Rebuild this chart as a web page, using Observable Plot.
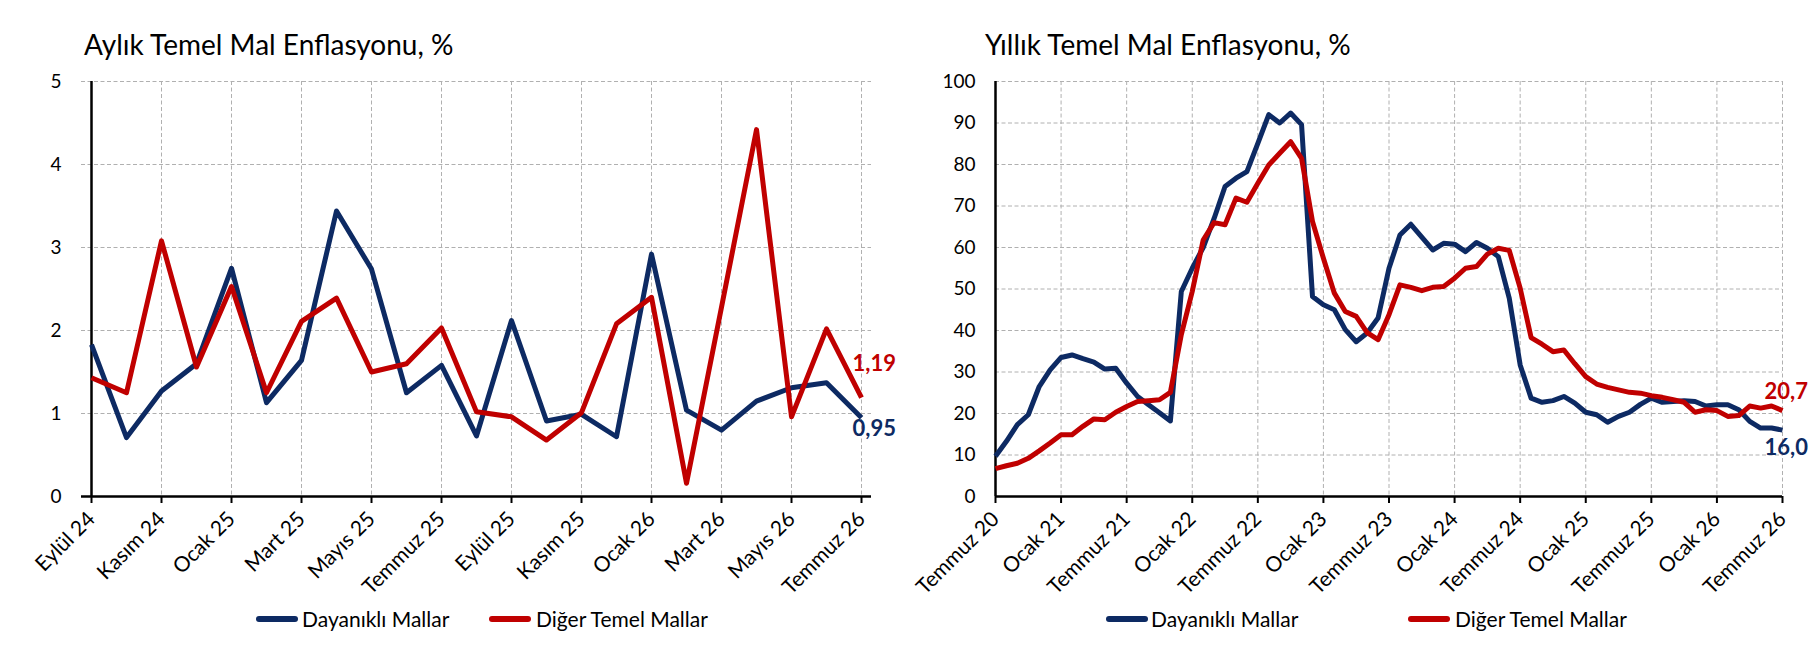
<!DOCTYPE html>
<html><head><meta charset="utf-8">
<script src="https://cdn.jsdelivr.net/npm/d3@7"></script>
<script src="https://cdn.jsdelivr.net/npm/@observablehq/plot@0.6"></script>
<style>
html,body{margin:0;padding:0;background:#fff;}
body{width:1816px;height:658px;position:relative;overflow:hidden;font-family:Lato, sans-serif;color:#000;}
.panel{position:absolute;top:0;width:908px;height:658px;}
.title{position:absolute;top:30px;font-size:28px;line-height:28px;white-space:nowrap;}
.plot{position:absolute;top:62px;left:0;}
.sw{position:absolute;top:616px;width:42px;height:6px;border-radius:3px;}
.lt{position:absolute;top:605px;height:28px;line-height:28px;font-size:21px;white-space:nowrap;}
</style></head><body>
<div id="left" class="panel" style="left:0"></div>
<div id="right" class="panel" style="left:908px"></div>
<script>
// ---------- data ----------
const monthNames = ["Ocak","Şubat","Mart","Nisan","Mayıs","Haziran","Temmuz","Ağustos","Eylül","Ekim","Kasım","Aralık"];
const seriesNames = ["Dayanıklı Mallar", "Diğer Temel Mallar"];
const seriesColors = ["#0d2a63", "#c00000"];

// Aylık (Eylül 24 – Temmuz 26)
const monthlyStart = [2024, 8]; // year, month index (Eylül)
const durableMonthly = [1.83, 0.71, 1.27, 1.60, 2.75, 1.13, 1.64, 3.44, 2.74, 1.25, 1.58, 0.73, 2.12, 0.91, 0.99, 0.72, 2.92, 1.04, 0.80, 1.15, 1.31, 1.37, 0.95];
const otherMonthly   = [1.43, 1.25, 3.08, 1.56, 2.53, 1.25, 2.11, 2.39, 1.50, 1.60, 2.03, 1.02, 0.96, 0.68, 1.01, 2.08, 2.40, 0.16, 2.28, 4.42, 0.96, 2.02, 1.19];
const monthlyXTicks = ["Eylül 24","Kasım 24","Ocak 25","Mart 25","Mayıs 25","Temmuz 25","Eylül 25","Kasım 25","Ocak 26","Mart 26","Mayıs 26","Temmuz 26"];
const monthlyYTicks = [0, 1, 2, 3, 4, 5];

// Yıllık (Temmuz 20 – Temmuz 26)
const annualStart = [2020, 6]; // Temmuz
const durableAnnual = [9.7, 13.3, 17.3, 19.7, 26.5, 30.5, 33.5, 34.1, 33.2, 32.4, 30.7, 30.9, 27.3, 24.1, 22.1, 20.2, 18.2,
  49.4, 55.0, 60.0, 67.0, 74.7, 76.7, 78.3, 85.1, 92.0, 90.0, 92.4, 89.6, 48.2, 46.2, 45.0, 40.2, 37.3, 39.4, 43.0,
  55.0, 63.0, 65.6, 62.5, 59.4, 61.0, 60.8, 59.0, 61.2, 59.8, 57.8, 47.8, 31.7, 23.7, 22.7, 23.1, 24.1, 22.5,
  20.3, 19.7, 17.9, 19.3, 20.3, 22.2, 23.7, 22.7, 22.9, 23.1, 22.9, 21.8, 22.1, 22.1, 20.9, 18.1, 16.5, 16.5, 16.0];
const otherAnnual = [6.7, 7.4, 8.0, 9.2, 11.0, 12.9, 14.9, 14.9, 16.9, 18.7, 18.5, 20.3, 21.7, 22.9, 23.1, 23.3, 25.1,
  39.0, 49.4, 61.8, 66.0, 65.5, 71.9, 70.9, 75.5, 79.9, 82.7, 85.5, 81.5, 66.3, 57.4, 49.0, 44.6, 43.4, 39.5, 37.8,
  43.8, 51.0, 50.4, 49.6, 50.4, 50.6, 52.6, 55.0, 55.4, 58.4, 59.8, 59.3, 50.2, 38.3, 36.7, 34.9, 35.3, 32.0,
  28.9, 27.1, 26.3, 25.7, 25.1, 24.9, 24.3, 23.9, 23.3, 22.7, 20.3, 20.9, 20.7, 19.3, 19.5, 21.8, 21.3, 21.8, 20.7];
const annualXTicks = ["Temmuz 20","Ocak 21","Temmuz 21","Ocak 22","Temmuz 22","Ocak 23","Temmuz 23","Ocak 24","Temmuz 24","Ocak 25","Temmuz 25","Ocak 26","Temmuz 26"];
const annualYTicks = [0, 10, 20, 30, 40, 50, 60, 70, 80, 90, 100];

// ---------- helpers ----------
function monthLabels([y, m], n) {
  const out = [];
  for (let i = 0; i < n; i++) {
    const mm = (m + i) % 12, yy = y + Math.floor((m + i) / 12);
    out.push(monthNames[mm] + " " + String(yy % 100).padStart(2, "0"));
  }
  return out;
}
const fmt = (digits) => (v) => v.toFixed(digits).replace(".", ",");

function makeChart(el, cfg) {
  const cats = monthLabels(cfg.start, cfg.series[0].length);
  const rows = cfg.series.map(vals => vals.map((v, i) => ({cat: cats[i], value: v})));
  const gridStyle = {stroke: "#b0b0b0", strokeOpacity: 1, strokeWidth: 1, strokeDasharray: "4,2.5"};
  const last = rows.map(r => r[r.length - 1]);

  const title = document.createElement("div");
  title.className = "title";
  title.style.left = cfg.titleX + "px";
  title.textContent = cfg.title;
  el.appendChild(title);

  const chart = Plot.plot({
    width: 908, height: 540,
    marginLeft: cfg.ml, marginRight: cfg.mr, marginTop: 19, marginBottom: 106,
    style: {fontFamily: "Lato, sans-serif", fontSize: "19px", color: "#000", background: "transparent", overflow: "visible"},
    x: {type: "point", domain: cats, padding: 0, label: null},
    y: {domain: [cfg.yTicks[0], cfg.yTicks[cfg.yTicks.length - 1]], label: null},
    marks: [
      Plot.gridY(cfg.yTicks.slice(1), gridStyle),
      Plot.gridX(cfg.xTicks.slice(1), gridStyle),
      Plot.axisY(cfg.yTicks, {tickSize: 0, tickPadding: 20, fontSize: 19, tickFormat: d => String(d), label: null}),
      Plot.axisX(cfg.xTicks, {tickRotate: -45, tickSize: 7, tickPadding: 12, fontSize: 21, strokeWidth: 2, stroke: "#000",
        textAnchor: "end", lineAnchor: "middle", label: null}),
      Plot.ruleY([cfg.yTicks[0]], {stroke: "#000", strokeWidth: 2.5}),
      Plot.ruleX([cats[0]], {stroke: "#000", strokeWidth: 2.5}),
      ...rows.map((r, k) => Plot.lineY(r, {x: "cat", y: "value", stroke: seriesColors[k], strokeWidth: 5,
        strokeLinejoin: "round", strokeLinecap: "butt"})),
      ...last.map((d, k) => Plot.text([d], {x: "cat", y: "value", text: d => fmt(cfg.digits)(d.value),
        dx: cfg.labelDx, dy: cfg.labelDy[k], textAnchor: "start", fill: seriesColors[k], fontWeight: "bold", fontSize: 22}))
    ]
  });
  chart.classList.add("plot");
  el.appendChild(chart);

  seriesNames.forEach((name, k) => {
    const sw = document.createElement("div");
    sw.className = "sw";
    sw.style.left = cfg.legend[k][0] + "px";
    sw.style.background = seriesColors[k];
    el.appendChild(sw);
    const t = document.createElement("div");
    t.className = "lt";
    t.style.left = cfg.legend[k][1] + "px";
    t.textContent = name;
    el.appendChild(t);
  });
}

makeChart(document.getElementById("left"), {
  title: "Aylık Temel Mal Enflasyonu, %", titleX: 84,
  start: monthlyStart, series: [durableMonthly, otherMonthly],
  xTicks: monthlyXTicks, yTicks: monthlyYTicks, ml: 81, mr: 37,
  digits: 2, labelDx: -9, labelDy: [11, -34],
  legend: [[256, 302], [489, 536]]
});
makeChart(document.getElementById("right"), {
  title: "Yıllık Temel Mal Enflasyonu, %", titleX: 77,
  start: annualStart, series: [durableAnnual, otherAnnual],
  xTicks: annualXTicks, yTicks: annualYTicks, ml: 87, mr: 34,
  digits: 1, labelDx: -18, labelDy: [18, -19],
  legend: [[198, 243], [500, 547]]
});
</script></body></html>
